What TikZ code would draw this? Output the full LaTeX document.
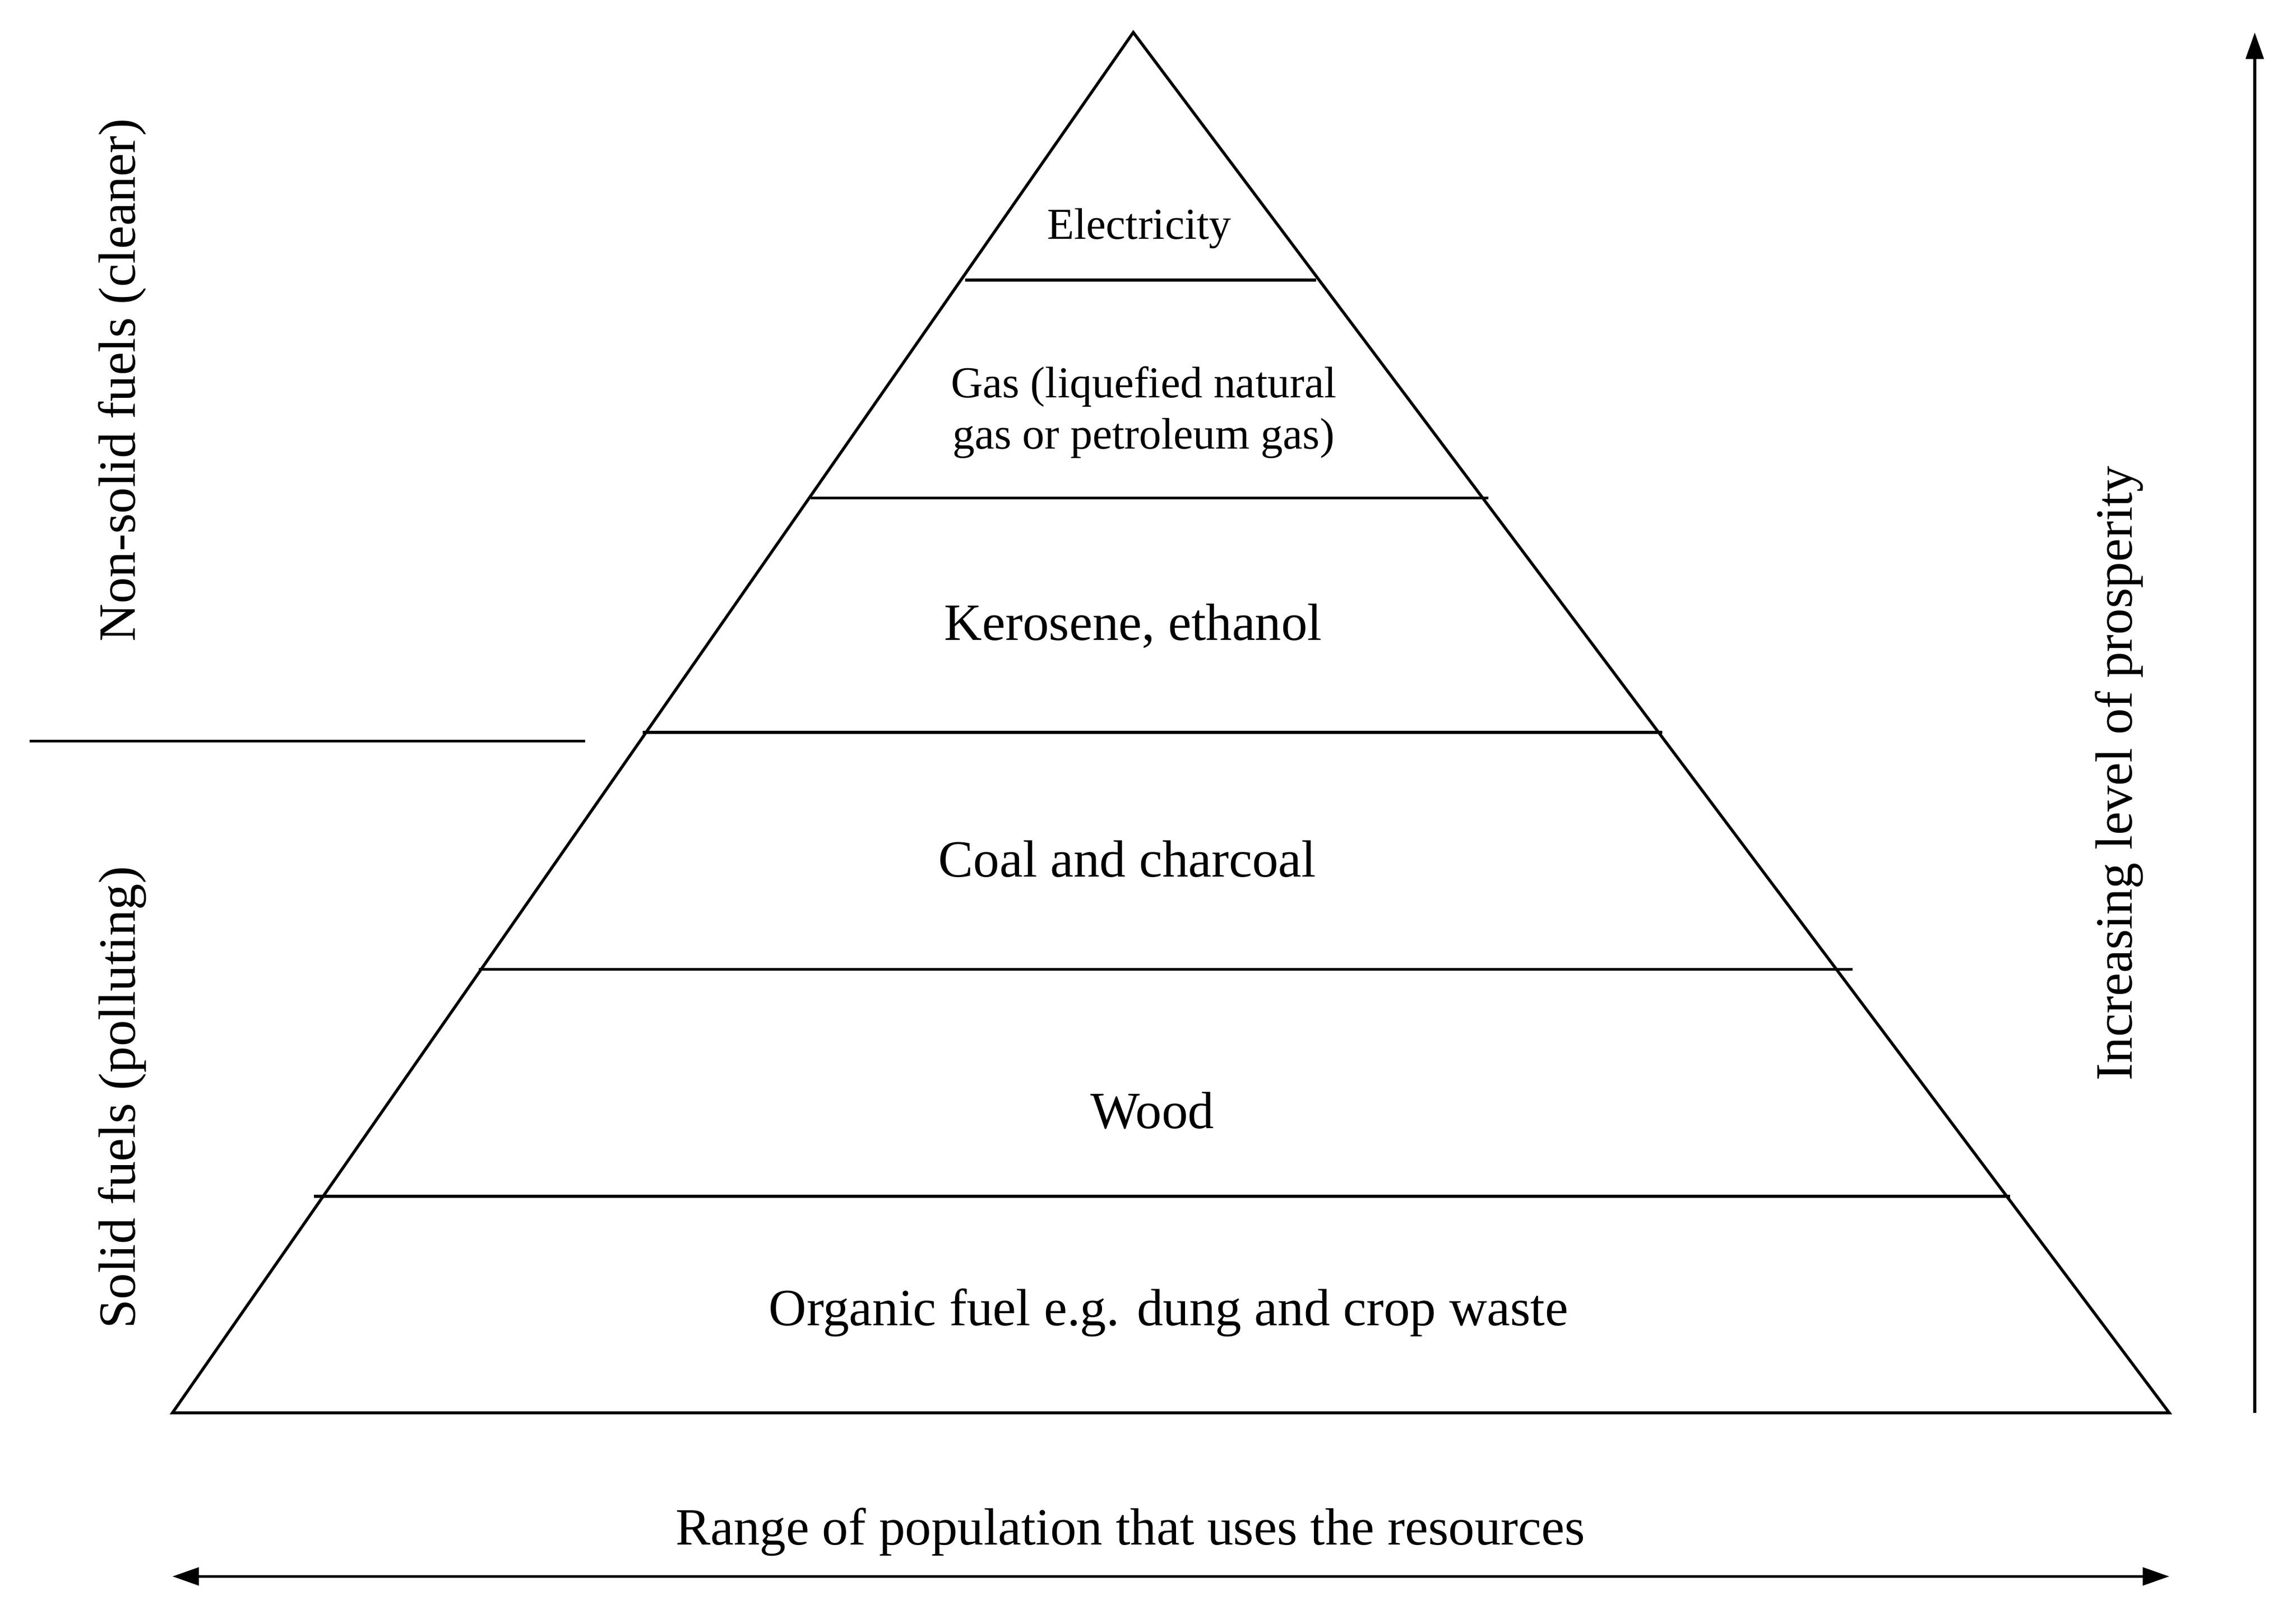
\documentclass[tikz,border=0pt]{standalone}
\usepackage{fontspec}
\setmainfont{Liberation Serif}
\usetikzlibrary{arrows.meta}
\begin{document}
\begin{tikzpicture}[x=1pt,y=-1pt,line width=2pt,
  lbl/.style={font=\fontsize{35.5}{40}\selectfont,align=center},
  sml/.style={font=\fontsize{30}{35}\selectfont,align=center}]
\useasboundingbox (0,0) rectangle (1558,1086);
\coordinate (apex) at (769,22);
\coordinate (bl) at (117,959);
\coordinate (br) at (1472,959);
\draw (apex) -- (bl) -- (br) -- cycle;
\draw (655,190) -- (893,190);
\draw (550,338) -- (1010,338);
\draw (436,497) -- (1128,497);
\draw (325,658) -- (1257,658);
\draw (213,812) -- (1364,812);
\draw (20,503) -- (397,503);
\node[sml] (e) at (773,155) {Electricity};
\node[sml] (g) at (776,280) {Gas (liquefied natural\\gas or petroleum gas)};
\node[lbl] (k) at (769,425) {Kerosene, ethanol};
\node[lbl] (c) at (765,583) {Coal and charcoal};
\node[lbl] (w) at (782,754) {Wood};
\node[lbl] (o) at (793,891) {Organic fuel e.g. dung and crop waste};
\node[lbl,rotate=90] (ns) at (83,258) {Non-solid fuels (cleaner)};
\node[lbl,rotate=90] (sf) at (83,745) {Solid fuels (polluting)};
\node[lbl,rotate=90] (ip) at (1438,525) {Increasing level of prosperity};
\node[lbl] (rp) at (767,1040) {Range of population that uses the resources};
\coordinate (a1) at (1530,959);
\coordinate (a2) at (1530,22);
\draw[-{Triangle[length=18pt,width=12pt]}] (a1) -- (a2);
\coordinate (b1) at (117,1070);
\coordinate (b2) at (1472,1070);
\draw[{Triangle[length=18pt,width=12pt]}-{Triangle[length=18pt,width=12pt]}] (b1) -- (b2);
\end{tikzpicture}
\end{document}
